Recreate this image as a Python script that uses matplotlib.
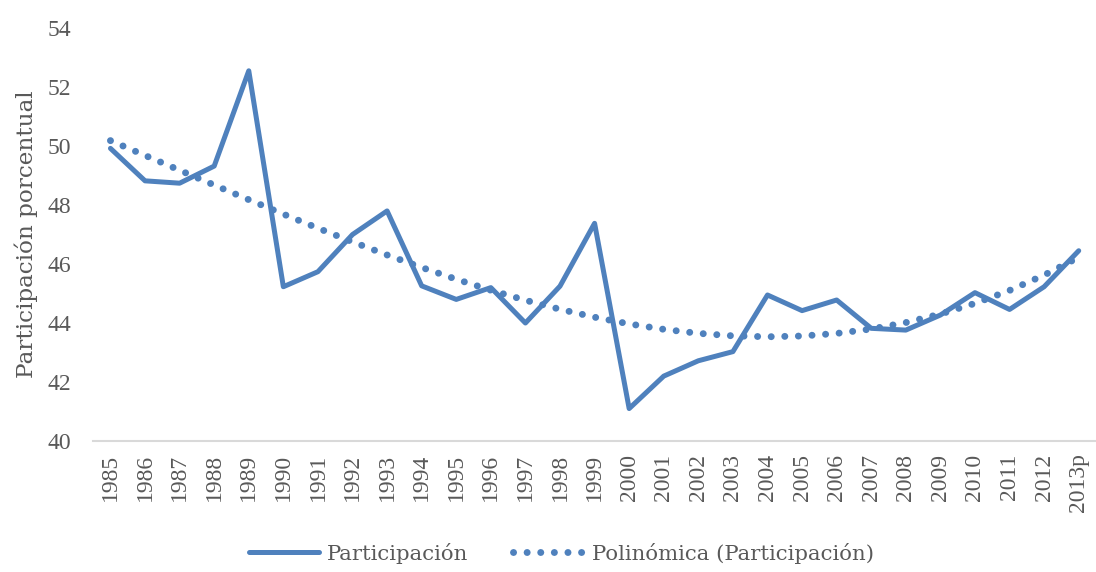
import numpy as np
import matplotlib
matplotlib.use("Agg")
import matplotlib.pyplot as plt

# data
years = ['1985', '1986', '1987', '1988', '1989', '1990', '1991', '1992', '1993', '1994',
         '1995', '1996', '1997', '1998', '1999', '2000', '2001', '2002', '2003', '2004',
         '2005', '2006', '2007', '2008', '2009', '2010', '2011', '2012', '2013p']
participacion = [49.92, 48.82, 48.74, 49.32, 52.55, 45.23, 45.74, 47.0, 47.8, 45.26,
                 44.8, 45.2, 44.0, 45.25, 47.38, 41.1, 42.2, 42.72, 43.03, 44.95,
                 44.42, 44.78, 43.82, 43.76, 44.27, 45.03, 44.46, 45.23, 46.45]
yticks = [40, 42, 44, 46, 48, 50, 52, 54]

color = '#4F81BD'
grey = '#595959'
num_font = ['Liberation Serif', 'DejaVu Serif']
txt_font = ['DejaVu Serif']

x = np.arange(len(years))
# Excel polynomial trendline (fitted to the series)
coef = np.polyfit(x, participacion, 3)
trend = np.polyval(coef, x)

fig = plt.figure(figsize=(10.96, 5.72), dpi=100)
ax = fig.add_axes([0.085, 0.229, 0.915, 0.722])

ax.plot(x, participacion, color=color, lw=3.6, solid_joinstyle='round',
        solid_capstyle='round', label='Participación')
ax.plot(x, trend, color=color, lw=5.0, linestyle=(0, (0.01, 1.95)),
        dash_capstyle='round', label='Polinómica (Participación)')

ax.set_xlim(-0.5, len(years) - 0.5)
ax.set_ylim(40, 54)
ax.set_yticks(yticks)
ax.set_xticks(x)
ax.set_xticklabels(years, rotation=90)
ax.tick_params(axis='both', length=0, colors=grey)
ax.tick_params(axis='y', pad=16)
ax.tick_params(axis='x', pad=9)
for lab in ax.get_xticklabels() + ax.get_yticklabels():
    lab.set_family(num_font)
    lab.set_fontsize(17)

for s in ['top', 'right', 'left']:
    ax.spines[s].set_visible(False)
ax.spines['bottom'].set_color('#D9D9D9')
ax.spines['bottom'].set_linewidth(1.5)

ax.set_ylabel('Participación porcentual', fontsize=16.7, color=grey,
              family=txt_font)
ax.yaxis.set_label_coords(-0.055, 0.5)

leg = fig.legend(loc='center', bbox_to_anchor=(0.512, 0.033), ncol=2,
                 frameon=False, prop={'family': txt_font, 'size': 15.3},
                 handlelength=3.3, columnspacing=2.1, handletextpad=0.4)
for t in leg.get_texts():
    t.set_color(grey)

fig.savefig('out.png', dpi=100)
